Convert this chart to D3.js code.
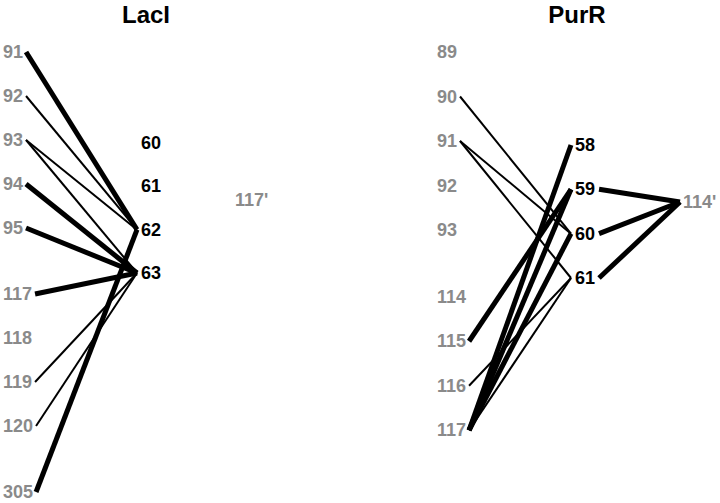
<!DOCTYPE html>
<html><head><meta charset="utf-8">
<script src="https://cdn.jsdelivr.net/npm/d3@7"></script>
<style>
html,body{margin:0;padding:0;background:#fff;}
svg{display:block;}
text{font-family:"Liberation Sans",Arial,sans-serif;font-weight:bold;}
</style></head>
<body>
<svg id="chart" width="720" height="503"></svg>
<script>
// ---- data ----
const lacTitle = "LacI";
const lacLeft = ["91","92","93","94","95","117","118","119","120","305"];
const lacRight = ["60","61","62","63"];
const lacPartner = "117'";
// [left residue, right residue, strength (1 = strong/thick, 0 = weak/thin)]
const lacLinks = [
  ["91","62",1],["92","62",0],["93","62",0],["93","63",0],["94","63",1],
  ["95","63",1],["117","63",1],["119","63",0],["120","63",0],["305","62",1]
];
const lacPartnerLinks = [];

const purTitle = "PurR";
const purLeft = ["89","90","91","92","93","114","115","116","117"];
const purRight = ["58","59","60","61"];
const purPartner = "114'";
const purLinks = [
  ["90","60",0],["91","60",0],["91","61",0],["115","59",1],["116","61",0],
  ["117","58",1],["117","59",1],["117","60",1],["117","61",0]
];
const purPartnerLinks = [["59",1],["60",1],["61",1]];

// ---- drawing ----
const svg = d3.select("#chart");
const width = d3.scaleOrdinal().domain([0,1]).range([2,5]);

function rows(list){
  let r = [], cur = 0;
  list.forEach((d,i)=>{
    if(i>0){ cur += (+d - +list[i-1] > 1) ? 1.5 : 1; }
    r.push(cur);
  });
  return r;
}

function panel(cfg){
  const g = svg.append("g");
  const rowIdx = rows(cfg.left);
  const rowOf = new Map(cfg.left.map((d,i)=>[d,rowIdx[i]]));
  const yL = d3.scaleLinear().domain([0,10]).range([52,52+10*cfg.rowStep]);
  const yR = d3.scalePoint().domain(cfg.right).range(cfg.rightRange);

  g.append("text").attr("x",cfg.titleX).attr("y",23).attr("text-anchor","middle")
    .attr("font-size",cfg.titleSize).attr("fill","#000").text(cfg.title);

  const leftText = g.selectAll("text.left").data(cfg.left).join("text")
    .attr("class","left").attr("x",cfg.leftX).attr("y",d=>yL(rowOf.get(d)))
    .attr("dominant-baseline","central").attr("font-size",18).attr("fill","#8a8a8a").text(d=>d);
  const lw = new Map();
  leftText.each(function(d){ lw.set(d,this.getComputedTextLength()); });

  const rightText = g.selectAll("text.right").data(cfg.right).join("text")
    .attr("class","right").attr("x",cfg.rightX).attr("y",d=>yR(d))
    .attr("dominant-baseline","central").attr("font-size",18).attr("fill","#000").text(d=>d);
  const rw = new Map();
  rightText.each(function(d){ rw.set(d,this.getComputedTextLength()); });

  g.append("text").attr("x",cfg.partnerX).attr("y",cfg.partnerY)
    .attr("dominant-baseline","central").attr("font-size",18).attr("fill","#8a8a8a").text(cfg.partner);

  g.selectAll("line.link").data(cfg.links).join("line").attr("class","link")
    .attr("x1",d=>cfg.leftX+lw.get(d[0])+3).attr("y1",d=>yL(rowOf.get(d[0])))
    .attr("x2",cfg.rightX-4).attr("y2",d=>yR(d[1]))
    .attr("stroke","#000").attr("stroke-width",d=>width(d[2]));

  g.selectAll("line.plink").data(cfg.plinks).join("line").attr("class","plink")
    .attr("x1",d=>cfg.rightX+rw.get(d[0])+4).attr("y1",d=>yR(d[0]))
    .attr("x2",cfg.partnerX-3).attr("y2",cfg.partnerY)
    .attr("stroke","#000").attr("stroke-width",d=>width(d[1]));
}

panel({title:lacTitle,titleX:146,titleSize:24,left:lacLeft,right:lacRight,partner:lacPartner,
  links:lacLinks,plinks:lacPartnerLinks,leftX:3,rightX:141,rightRange:[143,273],partnerX:235,partnerY:200,rowStep:44});
panel({title:purTitle,titleX:577,titleSize:24,left:purLeft,right:purRight,partner:purPartner,
  links:purLinks,plinks:purPartnerLinks,leftX:437,rightX:575,rightRange:[145,278],partnerX:683,partnerY:202,rowStep:44.5});
</script>
</body></html>
